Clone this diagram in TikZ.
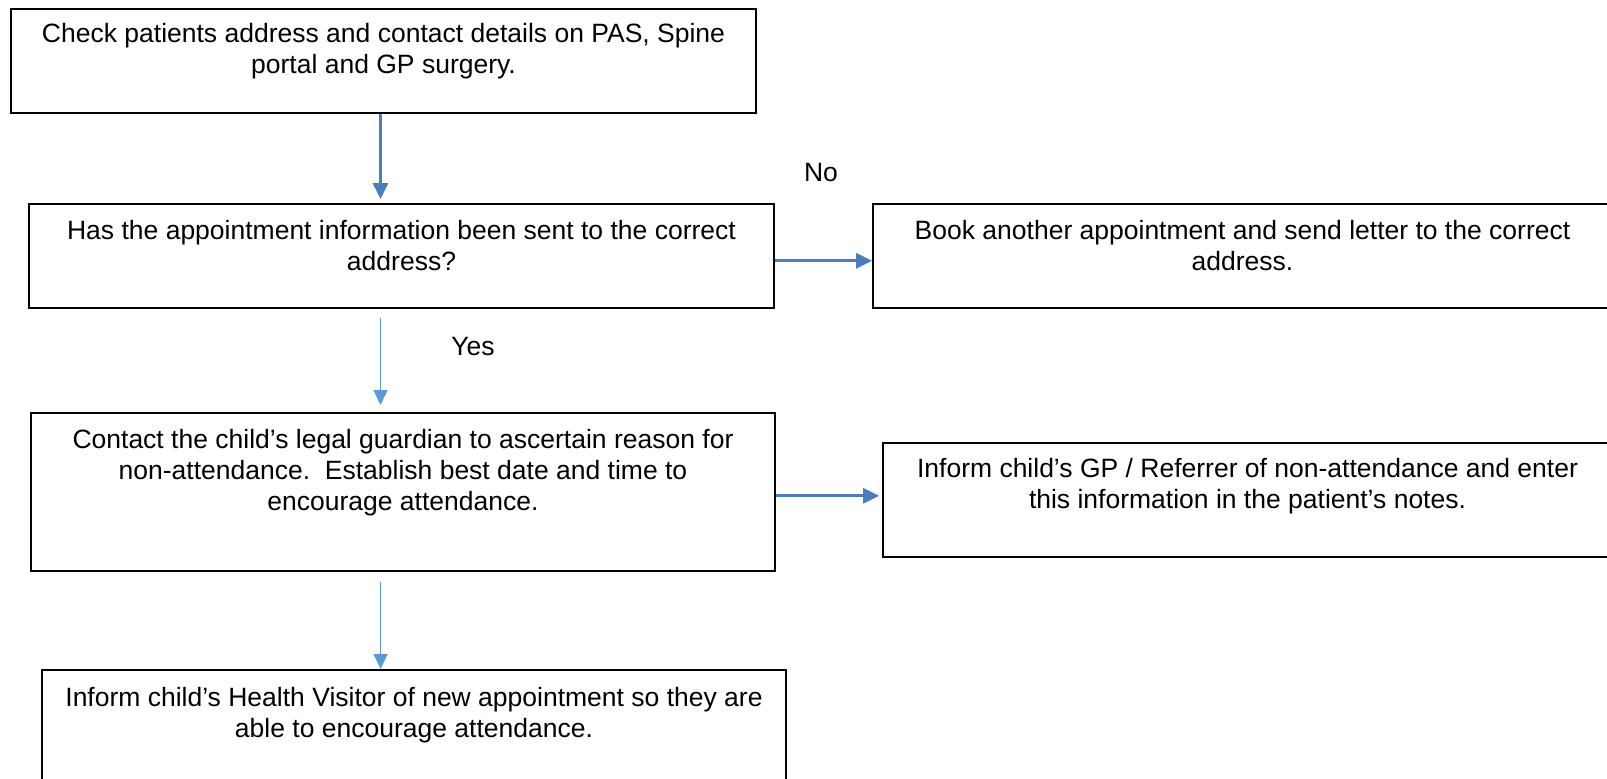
\documentclass[tikz,border=0pt]{standalone}
\usepackage{fontspec}
\setmainfont{Liberation Sans}
\usetikzlibrary{arrows.meta}
\definecolor{darkflow}{HTML}{4A7EBB}
\definecolor{lightflow}{HTML}{5B9BD5}
\tikzset{
  stepbox/.style={draw, line width=1.6pt, anchor=north, align=center,
    inner xsep=0pt, inner ysep=0pt,
    font=\fontsize{26.5}{31}\selectfont},
  darkarrow/.style={-{Triangle[length=16pt,width=15pt]}, darkflow, line width=2.8pt},
  lightarrow/.style={-{Triangle[length=15pt,width=14pt]}, lightflow, line width=1.6pt},
  answer/.style={font=\fontsize{26.5}{31}\selectfont}
}
\begin{document}
\begin{tikzpicture}[x=1pt,y=-1pt]
  \useasboundingbox (0,0) rectangle (1607,779);
  \node[stepbox, minimum width=745pt, minimum height=104pt, text height=65pt, text depth=39pt]
    (check) at (383.5,8) {Check patients address and contact details on PAS, Spine\\portal and GP surgery.};
  \node[stepbox, minimum width=745pt, minimum height=104pt, text height=67pt, text depth=37pt]
    (sent) at (401.5,203) {Has the appointment information been sent to the correct\\address?};
  \node[stepbox, minimum width=739pt, minimum height=104pt, text height=67pt, text depth=37pt]
    (book) at (1242.5,203) {Book another appointment and send letter to the correct\\address.};
  \node[stepbox, minimum width=744pt, minimum height=158pt, text height=98pt, text depth=60pt]
    (contact) at (403,412) {Contact the child’s legal guardian to ascertain reason for\\non-attendance.\ \ Establish best date and time to\\encourage attendance.};
  \node[stepbox, minimum width=729pt, minimum height=114pt, text height=66pt, text depth=48pt]
    (gp) at (1247.5,442) {Inform child’s GP / Referrer of non-attendance and enter\\this information in the patient’s notes.};
  \node[stepbox, minimum width=744pt, minimum height=115pt, text height=68pt, text depth=47pt]
    (visitor) at (414,669) {Inform child’s Health Visitor of new appointment so they are\\able to encourage attendance.};
  \node[answer] (no) at (821,173) {No};
  \node[answer] (yes) at (473,347) {Yes};
  \begin{scope}
    \draw[darkarrow, shorten >=4pt] ([xshift=-3pt]check.south) -- ([xshift=-3pt]check.south |- sent.north);
    \draw[darkarrow] ([yshift=-5pt]sent.east) -- ([yshift=-5pt]sent.east -| book.west);
    \draw[lightarrow, shorten <=9pt, shorten >=7pt] ([xshift=-21pt]sent.south) -- ([xshift=-21pt]sent.south |- contact.north);
    \draw[darkarrow, shorten >=3pt] ([yshift=-4pt]contact.east) -- ([yshift=-4pt]contact.east -| gp.west);
    \draw[lightarrow, shorten <=10pt] ([xshift=-22.4pt]contact.south) -- ([xshift=-22.4pt]contact.south |- visitor.north);
  \end{scope}
\end{tikzpicture}
\end{document}
